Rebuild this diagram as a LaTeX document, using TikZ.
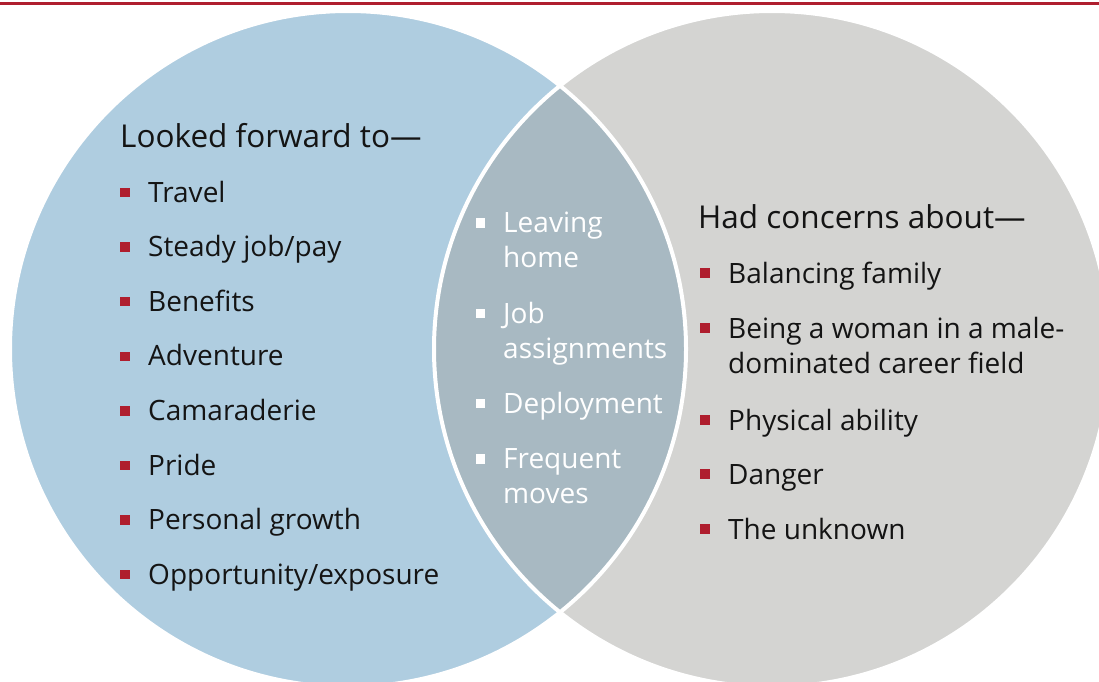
\documentclass[tikz,border=0pt]{standalone}
\usepackage{fontspec}
\setmainfont{Open Sans}
\usetikzlibrary{positioning}

\definecolor{venblue}{RGB}{175,205,224}
\definecolor{vengrey}{RGB}{212,212,210}
\definecolor{venmid}{RGB}{168,185,194}
\definecolor{venred}{RGB}{175,30,46}
\definecolor{ventext}{RGB}{20,20,20}

\tikzset{
	head/.style={anchor=base west, inner sep=0pt, text=ventext, font=\fontsize{31.5}{36}\selectfont},
	entry/.style={anchor=base west, inner sep=0pt, text=ventext, align=left, font=\fontsize{28}{34.5}\selectfont},
	midentry/.style={entry, text=white},
	redsq/.style={fill=venred, minimum size=9.5pt, inner sep=0pt},
	whitesq/.style={fill=white, minimum size=9.5pt, inner sep=0pt}
}

\begin{document}
\begin{tikzpicture}[x=1pt, y=-1pt]
	\useasboundingbox (0,0) rectangle (1099,681);

	\coordinate (lc) at (348,349);
	\coordinate (rc) at (772,349);

	% the two sets and their overlap
	\fill[venblue] (lc) circle [radius=338];
	\fill[vengrey] (rc) circle [radius=338];
	\begin{scope}
		\clip (rc) circle [radius=338];
		\fill[venmid] (lc) circle [radius=338];
	\end{scope}
	\draw[white, line width=4] (lc) circle [radius=338];
	\draw[white, line width=4] (rc) circle [radius=338];

	\draw[venred, line width=3.3] (0,3.3) -- (1099,3.3);

	% left: looked forward to
	\node[head] (fwdhead) at (120,147) {Looked forward to—};
	\foreach \txt [count=\i] in {Travel, Steady job/pay, Benefits, Adventure, Camaraderie, Pride, Personal growth, Opportunity/exposure} {
		\node[entry] (fwd\i) at (148,{147.4+54.6*\i}) {\txt};
		\node[redsq] (fwdsq\i) at (125,{137.9+54.6*\i}) {};
	}

	% middle: both (base = last line)
	\node[midentry] (mid1) at (503,267) {Leaving\\home};
	\node[midentry] (mid2) at (503,358) {Job\\assignments};
	\node[midentry] (mid3) at (503,413.6) {Deployment};
	\node[midentry] (mid4) at (503,503) {Frequent\\moves};
	\foreach \y [count=\i] in {233,323.6,413.6,469}
		\node[whitesq] (midsq\i) at (480.5,\y-10) {};

	% right: had concerns about
	\node[head] (conhead) at (698,228) {Had concerns about—};
	\node[entry] (con1) at (728,283) {Balancing family};
	\node[entry] (con2) at (728,373) {Being a woman in a male-\\dominated career field};
	\node[entry] (con3) at (728,430) {Physical ability};
	\node[entry] (con4) at (728,484) {Danger};
	\node[entry] (con5) at (728,539) {The unknown};
	\foreach \y [count=\i] in {283,338,430,484,539}
		\node[redsq] (consq\i) at (705,\y-10) {};
\end{tikzpicture}
\end{document}
